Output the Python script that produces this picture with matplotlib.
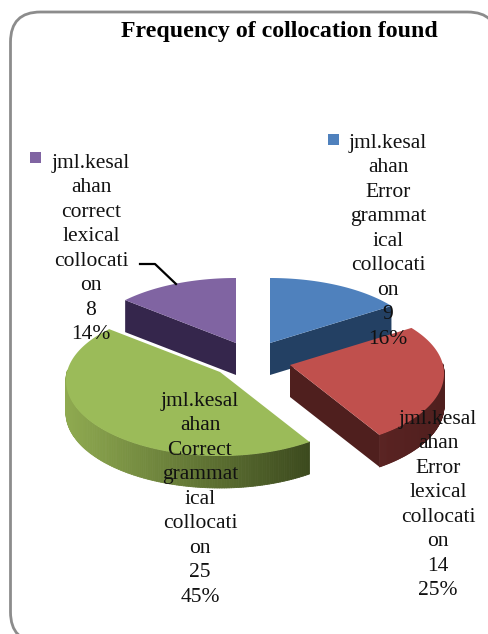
import numpy as np
import matplotlib
matplotlib.use("Agg")
import matplotlib.pyplot as plt
from matplotlib.patches import FancyBboxPatch, Polygon, Rectangle
from matplotlib.collections import PolyCollection

title = "Frequency of collocation found"
categories = ["jml.kesal\nahan\nError\ngrammat\nical\ncollocati\non",
              "jml.kesal\nahan\nError\nlexical\ncollocati\non",
              "jml.kesal\nahan\nCorrect\ngrammat\nical\ncollocati\non",
              "jml.kesal\nahan\ncorrect\nlexical\ncollocati\non"]
values = [9, 14, 25, 8]
percents = ["16%", "25%", "45%", "14%"]
top_colors = ["#4F81BD", "#C0504D", "#9BBB59", "#8064A2"]
wall_light = ["#2A4A75", "#5A2322", "#8FAA50", "#40305A"]
wall_dark = ["#234063", "#4F1F1E", "#3C4A1E", "#35264C"]

W, H = 489, 634
fig = plt.figure(figsize=(W / 100, H / 100), dpi=100)
ax = fig.add_axes([0, 0, 1, 1])
ax.set_xlim(0, W)
ax.set_ylim(H, 0)
ax.axis("off")

ax.add_patch(FancyBboxPatch((10.5, 12), 487, 630, boxstyle="round,pad=0,rounding_size=30",
                            fc="white", ec="#8C8C8C", lw=2.0, zorder=0))

fracs = np.array(values) / sum(values)
edges = np.concatenate([[0], np.cumsum(fracs)]) * 2 * np.pi
apex = [(270, 343), (290, 365), (220, 372), (236, 343)]
depth = 32


def rim(theta, a):
    c = np.cos(theta)
    rx = 153 - 18 * c
    ry = 75 - 10 * np.clip(c, 0, 1) + 9 * np.clip(-c, 0, 1)
    return a[0] + rx * np.sin(theta), a[1] - ry * c


def blend(c1, c2, t):
    a, b = np.array(matplotlib.colors.to_rgb(c1)), np.array(matplotlib.colors.to_rgb(c2))
    return a + (b - a) * t


order = [3, 0, 1, 2]
for z, i in enumerate(order):
    a = apex[i]
    th = np.linspace(edges[i], edges[i + 1], 200)
    xs, ys = rim(th, a)
    zo = 2 + z
    quads, cols = [], []
    for k in range(len(th) - 1):
        if np.cos(th[k]) < 0.02:
            quads.append([(xs[k], ys[k]), (xs[k + 1], ys[k + 1]),
                          (xs[k + 1], ys[k + 1] + depth), (xs[k], ys[k] + depth)])
            t = (xs[k] - xs.min()) / max(xs.max() - xs.min(), 1)
            cols.append(blend(wall_light[i], wall_dark[i], t))
    if quads:
        ax.add_collection(PolyCollection(quads, facecolors=cols, edgecolors=cols, lw=0.6, zorder=zo))
    wall_edge = {0: -1, 1: -1, 3: 0}.get(i)
    if wall_edge is not None:
        ex, ey = xs[wall_edge], ys[wall_edge]
        ax.add_patch(Polygon([(ex, ey), a, (a[0], a[1] + depth), (ex, ey + depth)],
                             fc=wall_dark[i], ec="none", zorder=zo))
    ax.add_patch(Polygon(np.column_stack([np.r_[a[0], xs], np.r_[a[1], ys]]),
                         fc=top_colors[i], ec="none", zorder=zo + 0.5))

font = dict(family=["Liberation Serif"], color="#111111", ha="center", va="top",
            fontsize=15.5, linespacing=1.39, zorder=20)
label_xy = [(388, 134), (438, 410), (200, 392), (91, 154)]
for i, (x, y) in enumerate(label_xy):
    ax.text(x, y, f"{categories[i]}\n{values[i]}\n{percents[i]}", **font)

ax.text(279, 31, title, family=["Liberation Serif"], fontweight="bold",
        fontsize=17.2, ha="center", va="center", zorder=20)

ax.add_patch(Rectangle((328, 134), 11, 11, fc=top_colors[0], ec="none", zorder=20))
ax.add_patch(Rectangle((30, 152), 11, 11, fc=top_colors[3], ec="none", zorder=20))
ax.plot([140, 155, 176], [264, 264, 284], color="black", lw=1.6, zorder=10)

fig.savefig("out.png", dpi=100)
